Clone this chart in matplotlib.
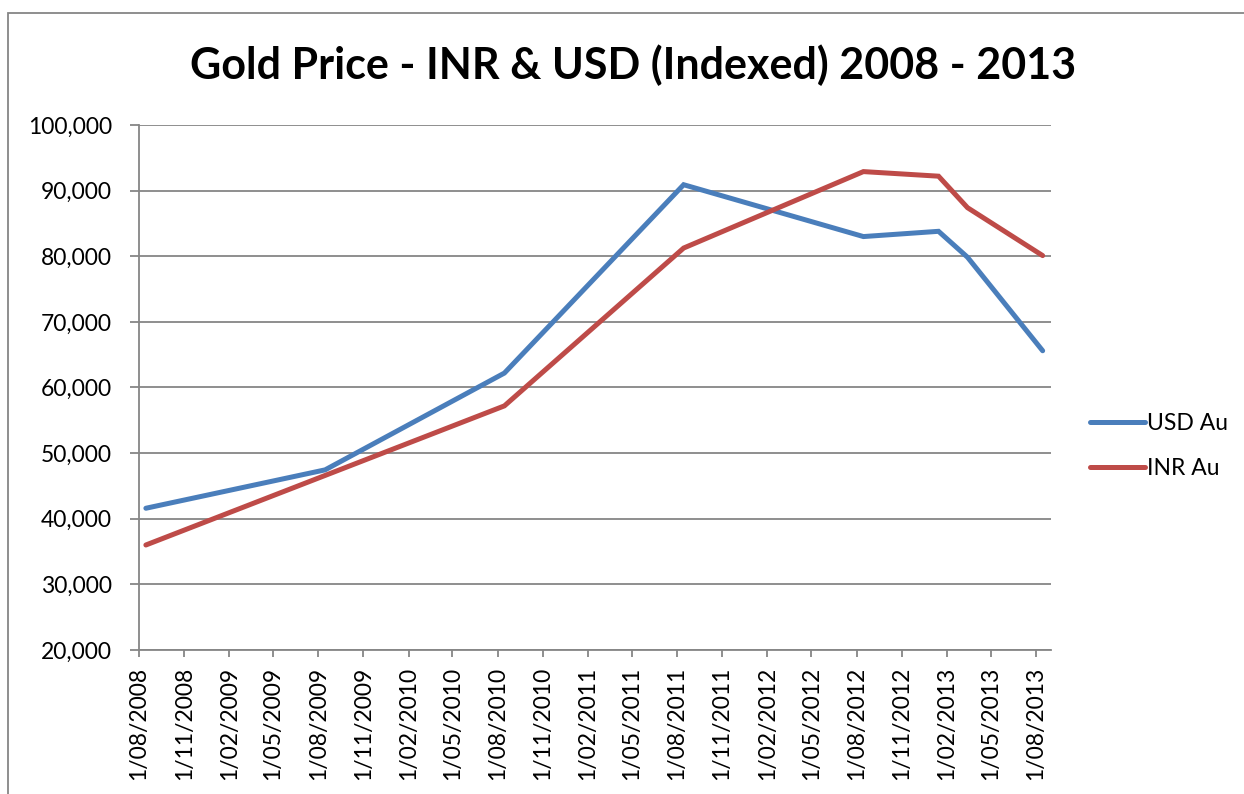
import matplotlib
matplotlib.use("Agg")
import matplotlib.pyplot as plt
import matplotlib.dates as mdates
from matplotlib.patches import Rectangle
from matplotlib.ticker import FuncFormatter, MultipleLocator
import pandas as pd

# dates of the observations (mid-month)
dates = pd.to_datetime(["2008-08-15", "2009-08-15", "2010-08-15", "2011-08-15",
                        "2012-08-15", "2013-01-15", "2013-03-15", "2013-08-15"])
usd_au = [41600, 47450, 62200, 90900, 83000, 83800, 79850, 65600]
inr_au = [36000, 46600, 57200, 81250, 92900, 92200, 87400, 80100]

tick_dates = pd.date_range("2008-08-01", "2013-08-01", freq="3MS")

plt.rcParams['font.family'] = ['Lato', 'DejaVu Sans']

fig = plt.figure(figsize=(12.44, 7.94), dpi=100)
ax = fig.add_axes([139 / 1244, 144 / 794, 912 / 1244, 525 / 794])

ax.plot(dates, usd_au, color='#4A7EBB', lw=3.6, solid_capstyle='round',
        solid_joinstyle='miter', label='USD Au')
ax.plot(dates, inr_au, color='#BE4B48', lw=3.6, solid_capstyle='round',
        solid_joinstyle='miter', label='INR Au')

ax.set_xlim(pd.Timestamp("2008-08-01"), pd.Timestamp("2013-09-01"))
ax.set_ylim(20000, 100000)
ax.yaxis.set_major_locator(MultipleLocator(10000))
ax.yaxis.set_major_formatter(FuncFormatter(lambda v, p: f"{int(v):,}"))
ax.set_xticks(tick_dates)
ax.xaxis.set_major_formatter(mdates.DateFormatter("%d/%m/%Y"))
ax.set_xticklabels([f"{d.day}/{d.month:02d}/{d.year}" for d in tick_dates], rotation=90)

ax.grid(axis='y', color='#868686', lw=1.3)
ax.set_axisbelow(True)
for s in ['top', 'right']:
    ax.spines[s].set_visible(False)
for s in ['left', 'bottom']:
    ax.spines[s].set_color('#868686')
    ax.spines[s].set_linewidth(1.3)
ax.tick_params(axis='both', colors='#868686', labelcolor='black', labelsize=16.5,
               width=1.3, direction='out')
ax.tick_params(axis='y', length=6.5, pad=13)
ax.tick_params(axis='x', length=5, pad=7)

fig.text(633 / 1244, 1 - 65 / 794, "Gold Price - INR & USD (Indexed) 2008 - 2013",
         ha='center', va='center', fontsize=31, fontweight='bold')

ax.legend(loc='center left', bbox_to_anchor=(1.02, 0.389), frameon=False,
          fontsize=16.5, handlelength=2.4, handletextpad=0.1, labelspacing=1.05)

# outer chart border
fig.patches.append(Rectangle((8 / 1244, -0.1), 1.2, 1.1 - 13 / 794, transform=fig.transFigure,
                             fill=False, edgecolor='#868686', lw=1.3))

fig.savefig("out.png", dpi=100)
